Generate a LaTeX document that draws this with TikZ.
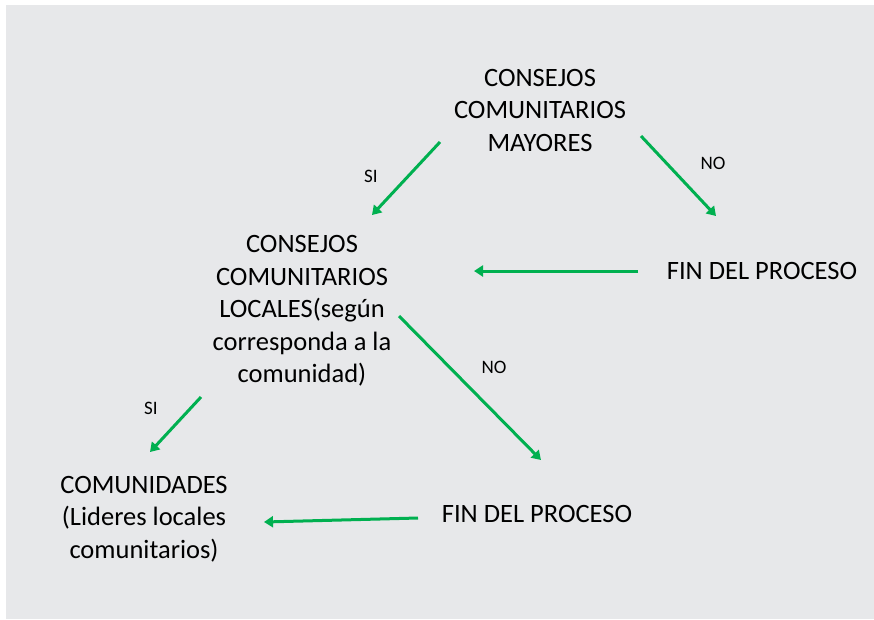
\documentclass[tikz,border=0pt]{standalone}
\usepackage{fontspec}
\setmainfont{Carlito}
\usetikzlibrary{arrows.meta}
\definecolor{bggray}{HTML}{E7E8EA}
\definecolor{arrgreen}{HTML}{00B050}
\tikzset{
  box/.style={align=center, inner sep=0pt, font=\fontsize{26.5}{32.5}\selectfont, text=black},
  lbl/.style={inner sep=0pt, font=\fontsize{19}{22}\selectfont, text=black},
  garrow/.style={draw=arrgreen, line width=3pt, -{Triangle[width=11pt,length=9pt]}}
}
\begin{document}
\begin{tikzpicture}[x=1pt,y=-1pt]
  \useasboundingbox (0,0) rectangle (874,619);
  \fill[white] (0,0) rectangle (874,619);
  \fill[bggray] (6,5) rectangle (874,619);

  \node[box] (top) at (540,110) {CONSEJOS\\COMUNITARIOS\\MAYORES};
  \node[box] (mid) at (302,311) {CONSEJOS\\COMUNITARIOS\\LOCALES(según\\corresponda a la\\comunidad)};
  \node[box] (fin1) at (762,271) {FIN DEL PROCESO};
  \node[box] (fin2) at (537,514) {FIN DEL PROCESO};
  \node[box] (com) at (144,519) {COMUNIDADES\\(Lideres locales\\comunitarios)};

  \node[lbl] (si1) at (371,176) {SI};
  \node[lbl] (no1) at (713,163) {NO};
  \node[lbl] (no2) at (494,367) {NO};
  \node[lbl] (si2) at (151,408) {SI};

  \coordinate (a1s) at (440,142); \coordinate (a1e) at (372,215);
  \coordinate (a2s) at (641,136); \coordinate (a2e) at (716,216);
  \coordinate (a3s) at (638,271); \coordinate (a3e) at (474,271);
  \coordinate (a4s) at (399,316); \coordinate (a4e) at (541,460);
  \coordinate (a5s) at (201,397); \coordinate (a5e) at (150,452);
  \coordinate (a6s) at (418,518); \coordinate (a6e) at (264,522);

  \draw[garrow] (a1s) -- (a1e);
  \draw[garrow] (a2s) -- (a2e);
  \draw[garrow] (a3s) -- (a3e);
  \draw[garrow] (a4s) -- (a4e);
  \draw[garrow] (a5s) -- (a5e);
  \draw[garrow] (a6s) -- (a6e);
\end{tikzpicture}
\end{document}
